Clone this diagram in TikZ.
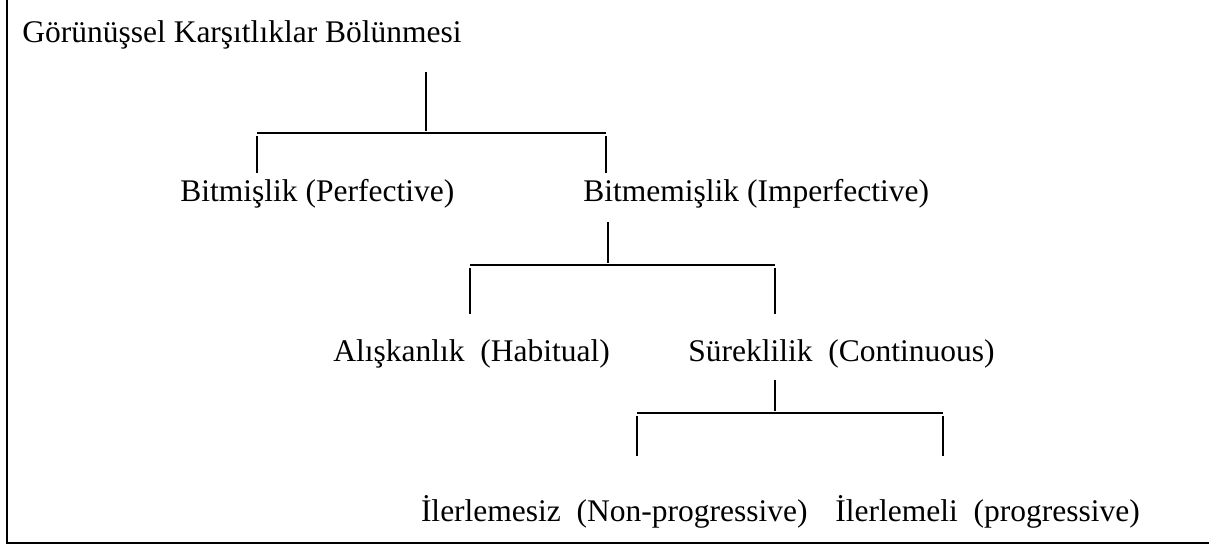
\documentclass[tikz,border=0pt]{standalone}
\usepackage{fontspec}
\setmainfont{Liberation Serif}
\begin{document}
\begin{tikzpicture}[
		lbl/.style={anchor=base west,inner sep=0pt,font=\fontsize{15.75}{19}\selectfont},
		lblr/.style={lbl,anchor=base east},
		br/.style={line width=1pt},
		x=0.5pt, y=-0.5pt]
	\useasboundingbox (0,0) rectangle (1209,544);
	%% frame
	\draw[line width=1pt] (6.5,0) -- (6.5,543);
	\draw[line width=0.8pt] (6,543) -- (1209,543);
	%% define labels
	\node (root) at (22,43) [lbl] {Görünüşsel Karşıtlıklar Bölünmesi};
	\node (perf) at (180,202) [lbl] {Bitmişlik (Perfective)};
	\node (imperf) at (583,202) [lbl] {Bitmemişlik (Imperfective)};
	\node (hab) at (333,362) [lbl] {Alışkanlık\ \ (Habitual)};
	\node (cont) at (688,362) [lbl] {Süreklilik\ \ (Continuous)};
	\node (nonprog) at (808,522) [lblr] {İlerlemesiz\ \ (Non-progressive)};
	\node (prog) at (835,522) [lbl] {İlerlemeli\ \ (progressive)};
	%% define branch points
	\coordinate (r0) at (426,72);
	\coordinate (r1) at (426,131);
	\coordinate (rl) at (257,133);
	\coordinate (rr) at (606,133);
	\coordinate (i0) at (608,222);
	\coordinate (i1) at (608,263);
	\coordinate (il) at (470,265);
	\coordinate (ir) at (775,265);
	\coordinate (c0) at (775,380);
	\coordinate (c1) at (775,411);
	\coordinate (cl) at (637,413);
	\coordinate (cr) at (943,413);
	%% define branches
	\draw[br] (r0) -- (r1);
	\draw[br] (rl) -- (rr);
	\draw[br] ([yshift=-1.5pt]rl) -- (rl |- 0,173);
	\draw[br] ([yshift=-1.5pt]rr) -- (rr |- 0,173);
	\draw[br] (i0) -- (i1);
	\draw[br] (il) -- (ir);
	\draw[br] ([yshift=-1.5pt]il) -- (il |- 0,314);
	\draw[br] ([yshift=-1.5pt]ir) -- (ir |- 0,314);
	\draw[br] (c0) -- (c1);
	\draw[br] (cl) -- (cr);
	\draw[br] ([yshift=-1.5pt]cl) -- (cl |- 0,456);
	\draw[br] ([yshift=-1.5pt]cr) -- (cr |- 0,456);
\end{tikzpicture}
\end{document}
